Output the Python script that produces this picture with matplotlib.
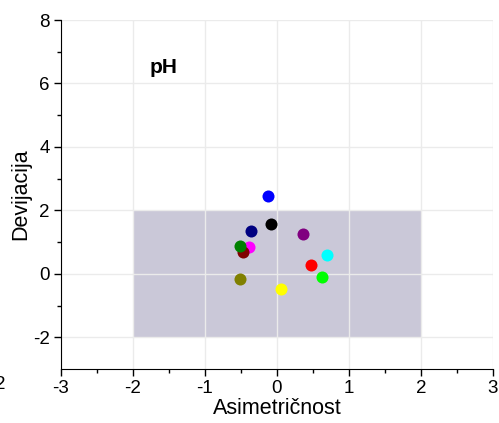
import matplotlib.pyplot as plt
from matplotlib.patches import Rectangle

plt.rcParams['font.family'] = ['Liberation Sans', 'DejaVu Sans']
plt.rcParams['axes.unicode_minus'] = False

# skewness / deviation values per sample
asim = [-0.125, -0.083, -0.36, 0.36, -0.39, -0.47, -0.51, 0.69, 0.47, 0.63, -0.52, 0.06]
devij = [2.45, 1.57, 1.35, 1.25, 0.85, 0.70, 0.87, 0.60, 0.27, -0.09, -0.15, -0.47]
boje = ['#0000ff', '#000000', '#000080', '#800080', '#ff00ff', '#800000',
        '#008000', '#00ffff', '#ff0000', '#00ff00', '#808000', '#ffff00']

xticks = [-3, -2, -1, 0, 1, 2, 3]
yticks = [-2, 0, 2, 4, 6, 8]

fig = plt.figure(figsize=(4.99, 4.23), dpi=100)
ax = fig.add_axes([0.1222, 0.1277, 0.8657, 0.825])

ax.add_patch(Rectangle((-2, -2), 4, 4, facecolor='#cac8d8', edgecolor='none', zorder=0.4))
ax.grid(True, color='#ebebeb', linewidth=1)
ax.set_axisbelow(True)

for x, y, c in zip(asim, devij, boje):
    ax.scatter(x, y, s=75, color=c, zorder=3, linewidths=0)

ax.set_xlim(-3, 3)
ax.set_ylim(-3, 8)
ax.set_xticks(xticks)
ax.set_yticks(yticks)
ax.set_xticks([-2.5, -1.5, -0.5, 0.5, 1.5, 2.5], minor=True)
ax.set_yticks([-1, 1, 3, 5, 7], minor=True)
ax.tick_params(which='major', length=5, width=1, labelsize=13.5, direction='out', pad=3)
ax.tick_params(which='minor', length=3, width=1, direction='out')
ax.spines['top'].set_visible(False)
ax.spines['right'].set_visible(False)

ax.set_xlabel('Asimetričnost', fontsize=15.5, labelpad=1)
ax.set_ylabel('Devijacija', fontsize=15.5, labelpad=1)
ax.text(-1.58, 6.5, 'pH', fontsize=15, fontweight='bold', ha='center', va='center')

# piece of neighbouring panel's tick label
fig.text(0.0, 0.09, '2', fontsize=13.5, ha='center', va='center')

fig.savefig('out.png', dpi=100)
